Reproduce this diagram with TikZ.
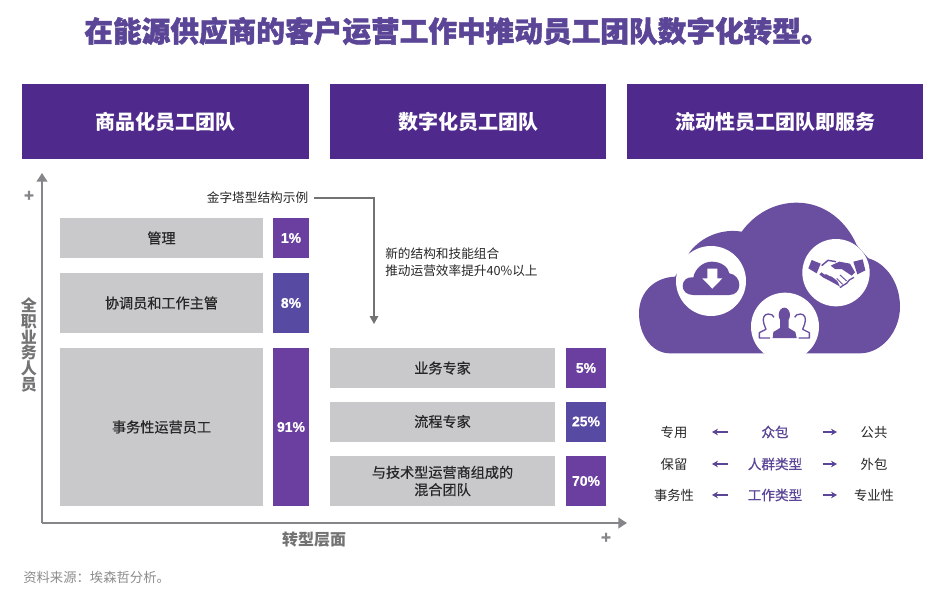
\documentclass[tikz,border=0pt]{standalone}
\usepackage{fontspec}
\setmainfont{Noto Sans CJK SC}
\newfontfamily\medfont[FakeBold=0.5]{Noto Sans CJK SC}
\newfontfamily\heavyfont[BoldFeatures={FakeBold=1.6}]{Noto Sans CJK SC}
\newfontfamily\pctfont[BoldFeatures={FakeBold=0.6}]{Liberation Sans}
\usetikzlibrary{arrows.meta}
\definecolor{hdr}{HTML}{4F2A8C}
\definecolor{ttl}{HTML}{5B4596}
\definecolor{pcta}{HTML}{6A3F9F}
\definecolor{pctb}{HTML}{564AA2}
\definecolor{cloudc}{HTML}{6A4FA0}
\definecolor{grayb}{HTML}{C9C9CB}
\definecolor{axisc}{HTML}{85858A}
\tikzset{
  sized/.style 2 args={minimum width=#1*0.75pt,minimum height=#2*0.75pt,inner sep=0pt,outer sep=0pt},
  header/.style 2 args={sized={#1}{#2},fill=hdr,text=white,font=\fontsize{15}{18}\selectfont\bfseries},
  graybox/.style 2 args={sized={#1}{#2},fill=grayb,text=black!85,align=center,font=\fontsize{10.6}{13}\selectfont\medfont},
  pct/.style n args={3}{sized={#1}{#2},fill=#3,text=white,font=\fontsize{10.5}{12}\selectfont\pctfont\bfseries},
  axisline/.style={draw=axisc,line width=1.5pt,-{Triangle[length=6.5pt,width=8pt]}},
  thinline/.style={draw=black!55,line width=0.8pt,-{Triangle[length=6pt,width=6.5pt]}},
  side/.style 2 args={sized={#1}{12},text=black!85,font=\fontsize{10}{12}\selectfont},
  mid/.style={sized={95}{12},text=ttl,font=\fontsize{10.2}{12}\selectfont\medfont},
  swap/.style={draw=ttl,line width=0.8pt,-{Stealth[length=4.5pt,width=5pt]}},
  axlabel/.style={inner sep=0pt,text=black!55,font=\fontsize{12}{11.9}\selectfont\bfseries},
  plus/.style={inner sep=0pt,text=axisc,font=\fontsize{13}{14}\selectfont\pctfont\bfseries}
}
\begin{document}
\begin{tikzpicture}[x=0.75pt,y=-0.75pt]
\useasboundingbox (0,0) rectangle (940,596);
\node[inner sep=0pt,text=ttl,font=\fontsize{21.5}{25}\selectfont\heavyfont\bfseries] (title) at (457,31) {在能源供应商的客户运营工作中推动员工团队数字化转型。};
\node[header={287}{75}] (h1) at (165.5,121.5) {商品化员工团队};
\node[header={276}{75}] (h2) at (468,121.5) {数字化员工团队};
\node[header={296}{75}] (h3) at (775,121.5) {流动性员工团队即服务};

\coordinate (origin) at (42,523);
\coordinate (ytip) at (42,173);
\coordinate (xtip) at (627,523);
\draw[axisline] (origin) -- (ytip);
\draw[axisline] (origin) -- (xtip);
\node[plus] (p1) at (29,196) {+};
\node[plus] (p2) at (606,538) {+};
\node[axlabel,align=center] (yl) at (29,345) {全\\职\\业\\务\\人\\员};
\node[axlabel] (xl) at (314,540) {转型层面};

\node[graybox={203}{40}] (a1) at (161.5,238) {管理};
\node[pct={36}{40}{pcta}] (a1p) at (291,238) {1\%};
\node[graybox={203}{60}] (a2) at (161.5,303) {协调员和工作主管};
\node[pct={36}{60}{pctb}] (a2p) at (291,303) {8\%};
\node[graybox={203}{158}] (a3) at (161.5,427) {事务性运营员工};
\node[pct={36}{158}{pcta}] (a3p) at (291,427) {91\%};

\node[graybox={225}{40}] (b1) at (442.5,368) {业务专家};
\node[pct={40}{40}{pcta}] (b1p) at (586,368) {5\%};
\node[graybox={225}{40}] (b2) at (442.5,421.5) {流程专家};
\node[pct={40}{40}{pctb}] (b2p) at (586,421.5) {25\%};
\node[graybox={225}{50}] (b3) at (442.5,481) {与技术型运营商组成的\\混合团队};
\node[pct={40}{50}{pcta}] (b3p) at (586,481) {70\%};

\node[inner sep=0pt,text=black!85,font=\fontsize{9.5}{12}\selectfont] (pyr) at (257.5,198) {金字塔型结构示例};
\coordinate (pyrend) at (374,324);
\draw[thinline] ([xshift=4.5pt]pyr.east) -| (pyrend);
\node[inner sep=0pt,anchor=north west,align=left,text=black!85,font=\fontsize{9.5}{12.8}\selectfont] (note) at (385,247.5) {新的结构和技能组合\\推动运营效率提升40\%以上};

\node[inner sep=0pt,anchor=west,text=black!45,font=\fontsize{10}{12}\selectfont] (src) at (23,577) {资料来源：埃森哲分析。};

% cloud
\begin{scope}[shift={(630,190)},x=0.25pt,y=-0.25pt]
\fill[cloudc] (120,490) .. controls (65,490) and (27,435) .. (27,370)
 .. controls (27,305) and (75,262) .. (135,260) -- (180,185)
 .. controls (215,140) and (275,115) .. (335,125)
 .. controls (375,70) and (435,38) .. (500,38)
 .. controls (585,38) and (650,95) .. (680,165) -- (715,205)
 .. controls (770,220) and (810,280) .. (810,350)
 .. controls (810,425) and (755,490) .. (690,490) -- cycle;
\fill[white] (243,273) circle[radius=105];
\fill[white] (618,248) circle[radius=101];
\fill[white] (465,410) circle[radius=102];
% small cloud
\fill[cloudc] (190,315) .. controls (170,315) and (158,303) .. (158,288)
 .. controls (158,270) and (172,260) .. (190,262)
 .. controls (195,235) and (220,215) .. (245,215)
 .. controls (275,215) and (295,232) .. (298,250)
 .. controls (316,252) and (328,268) .. (328,285)
 .. controls (328,303) and (315,315) .. (298,315) -- cycle;
\fill[white] (232,236) -- (262,236) -- (262,265) -- (277,265) -- (247,296) -- (217,265) -- (232,265) -- cycle;
\end{scope}
% handshake
\begin{scope}[shift={(800,245)},x=0.25pt,y=-0.25pt]
\fill[cloudc] (35,45) -- (62,56) -- (50,85) -- (25,70) -- cycle;
\fill[cloudc] (160,50) -- (188,43) -- (196,76) -- (172,88) -- cycle;
\fill[cloudc] (92,62) -- (118,50) -- (150,56) -- (165,82) -- (155,92) -- (125,72) -- (105,72) -- cycle;
\draw[cloudc,line width=1.1pt,line join=round] (65,62) -- (84,46) -- (108,50);
\fill[cloudc] (58,88) -- (65,82) -- (72,88) -- (80,88) -- (88,93) -- (95,95) -- (102,100) -- (112,108) -- (120,125) -- (108,118) -- (90,108) -- (70,98) -- cycle;
\draw[cloudc,line width=1pt,line join=round] (162,97) -- (148,105) -- (140,115) -- (128,122) -- (120,128);
\draw[cloudc,line width=.7pt] (120,90) -- (140,108) (110,100) -- (128,118);
\end{scope}
% people
\begin{scope}[shift={(750,300)},x=0.25pt,y=-0.25pt]
\fill[cloudc] (103,45) ellipse[x radius=17,y radius=22];
\fill[cloudc] (68,114) -- (70,96) -- (90,84) -- (90,60) -- (116,60) -- (116,84) -- (136,96) -- (140,114) -- cycle;
\draw[cloudc,line width=1pt,line join=round] (60,114) -- (28,114) -- (28,98) -- (48,88) -- (42,72)
 .. controls (36,55) and (42,42) .. (55,42) .. controls (64,42) and (70,46) .. (72,52);
\draw[cloudc,line width=1pt,line join=round] (146,114) -- (178,114) -- (178,98) -- (158,88) -- (164,72)
 .. controls (170,55) and (164,42) .. (151,42) .. controls (142,42) and (136,46) .. (134,52);
\end{scope}

\node[side={76}{12}] (l1) at (674,432) {专用};
\node[mid] (m1) at (775,432) {众包};
\node[side={74}{12}] (r1) at (874,432) {公共};
\node[side={76}{12}] (l2) at (674,464) {保留};
\node[mid] (m2) at (775,464) {人群类型};
\node[side={74}{12}] (r2) at (874,464) {外包};
\node[side={76}{12}] (l3) at (674,495) {事务性};
\node[mid] (m3) at (775,495) {工作类型};
\node[side={74}{12}] (r3) at (874,495) {专业性};
\foreach \i in {1,2,3}{
  \draw[swap] (m\i.west) -- (l\i.east);
  \draw[swap] (m\i.east) -- (r\i.west);
}
\end{tikzpicture}
\end{document}
